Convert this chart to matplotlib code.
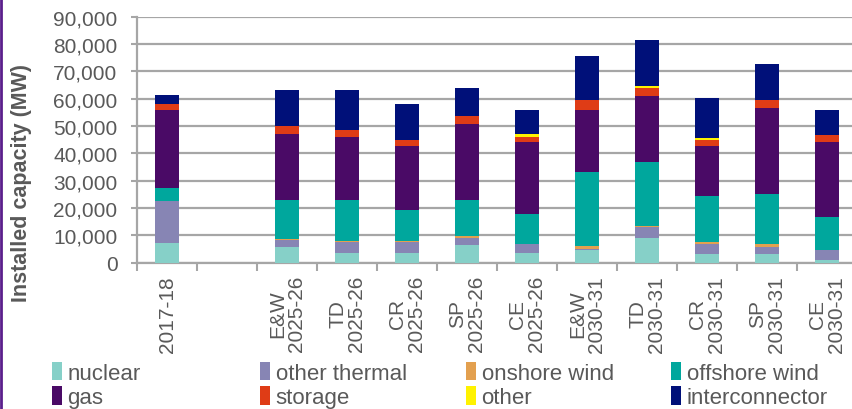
import numpy as np
import matplotlib
matplotlib.use('Agg')
import matplotlib.pyplot as plt
from matplotlib.patches import Patch
from matplotlib.lines import Line2D

plt.rcParams['font.family'] = ['Liberation Sans', 'DejaVu Sans']

# scenario labels (blank slot after the base year)
categories = ['2017-18', '',
              'E&W\n2025-26', 'TD\n2025-26', 'CR\n2025-26', 'SP\n2025-26', 'CE\n2025-26',
              'E&W\n2030-31', 'TD\n2030-31', 'CR\n2030-31', 'SP\n2030-31', 'CE\n2030-31']

# installed capacity by technology, MW
nuclear        = [7000, 0, 5500, 3400, 3400, 6300, 3300, 4500, 8800, 3000, 3000, 800]
other_thermal  = [15400, 0, 2800, 4200, 4200, 2600, 3400, 500, 4200, 3600, 2700, 3600]
onshore_wind   = [0, 0, 300, 300, 300, 700, 200, 1000, 300, 800, 900, 300]
offshore_wind  = [4900, 0, 14300, 15000, 11300, 13300, 10900, 27100, 23500, 17000, 18500, 12100]
gas            = [28400, 0, 24100, 23200, 23300, 27800, 26300, 22700, 24100, 18100, 31300, 27200]
storage        = [2300, 0, 2800, 2300, 2200, 2800, 2000, 3600, 3000, 2500, 3000, 2800]
other          = [0, 0, 0, 0, 0, 0, 900, 0, 700, 700, 0, 0]
interconnector = [3500, 0, 13300, 14600, 13200, 10300, 8700, 16100, 16800, 14400, 13200, 9000]

series = [('nuclear', nuclear, '#86D0C8'),
          ('other thermal', other_thermal, '#8785B4'),
          ('onshore wind', onshore_wind, '#E3A04F'),
          ('offshore wind', offshore_wind, '#00A79D'),
          ('gas', gas, '#4A0A66'),
          ('storage', storage, '#DF3C16'),
          ('other', other, '#FFF200'),
          ('interconnector', interconnector, '#001079')]

grey = '#595959'

fig = plt.figure(figsize=(8.52, 4.10), dpi=100)
ax = fig.add_axes([137 / 852, 146.5 / 410, 720 / 852, 245.8 / 410])

x = np.arange(len(categories))
bottom = np.zeros(len(categories))
for name, vals, col in series:
    vals = np.array(vals, dtype=float)
    ax.bar(x, vals, 0.4, bottom=bottom, color=col, edgecolor='none', zorder=3)
    bottom += vals

ax.set_xlim(-0.5, len(categories) - 0.5)
ax.set_ylim(0, 90000)
ax.set_yticks(np.arange(0, 90001, 10000))
ax.set_yticklabels([f'{v:,}' for v in range(0, 90001, 10000)])
ax.yaxis.grid(True, color='#A6A6A6', linewidth=1.6, zorder=0)
ax.set_axisbelow(True)

# category labels in the middle, tick marks on the boundaries
ax.set_xticks(x)
ax.set_xticklabels(categories, rotation=90, linespacing=1.0)
ax.set_xticks(np.arange(-0.5, len(categories), 1), minor=True)
ax.tick_params(axis='x', which='major', length=0, pad=9, labelsize=15, labelcolor=grey)
ax.tick_params(axis='x', which='minor', length=6, width=1.5, color='#A6A6A6')
ax.tick_params(axis='y', length=4, width=1.5, color='#A6A6A6', labelsize=15, labelcolor=grey, pad=10)

for s in ['top', 'right']:
    ax.spines[s].set_visible(False)
for s in ['left', 'bottom']:
    ax.spines[s].set_color('#A6A6A6')
    ax.spines[s].set_linewidth(1.6)

fig.text(22 / 852, 1 - 183 / 410, 'Installed capacity (MW)', rotation=90, ha='center', va='center',
         fontsize=15.5, fontweight='bold', color=grey)

# legend: four fixed-width columns, two rows
handles = [Patch(facecolor=c, edgecolor='none') for _, _, c in series]
names = [n for n, _, _ in series]
col_x = [52, 260, 466, 671]
for i in range(4):
    fig.legend([handles[i], handles[i + 4]], [names[i], names[i + 4]],
               loc='upper left', bbox_to_anchor=(col_x[i] / 852, 1 - 363 / 410),
               frameon=False, labelcolor=grey,
               handlelength=0.45, handleheight=0.9, handletextpad=0.25,
               labelspacing=0.1, borderaxespad=0, borderpad=0,
               prop={'family': ['Liberation Sans Narrow', 'Liberation Sans'], 'size': 16})

# purple frame edge on the left
fig.add_artist(Line2D([0.001, 0.001], [0, 1], transform=fig.transFigure, color='#5B1F8C', linewidth=2))

fig.savefig('out.png', dpi=100)
